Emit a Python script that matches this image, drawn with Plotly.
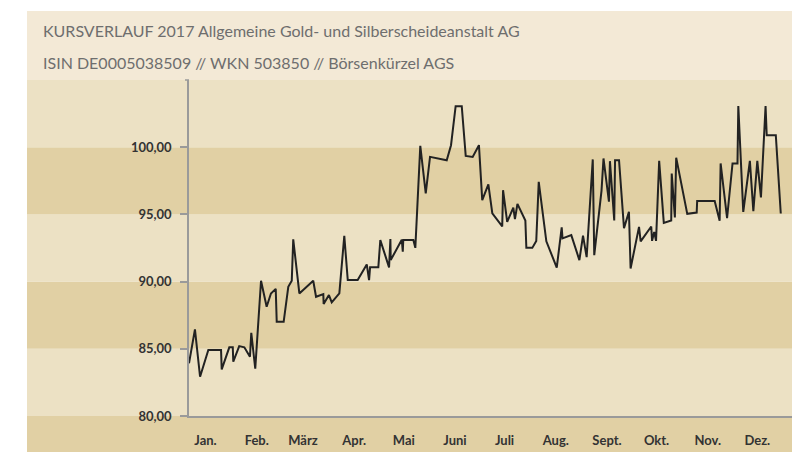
import plotly.graph_objects as go

# ---- data (x = day of year 2017, 0 = 1 Jan) ----
days = [0.0, 3.6, 6.7, 11.7, 19.4, 19.8, 24.4, 26.5, 26.8, 30.4, 33.5, 36.9, 37.7, 40.1,
        43.6, 47.0, 49.6, 52.5, 53.1, 57.3, 60.1, 62.2, 63.1, 66.8, 75.2, 76.9, 81.3, 81.5,
        84.7, 86.4, 91.0, 94.0, 96.1, 102.1, 107.6, 109.0, 109.6, 114.6, 115.8, 121.1, 121.9,
        122.1, 128.8, 129.4, 129.7, 135.8, 137.0, 140.0, 143.3, 145.9, 156.0, 158.6, 161.4,
        165.1, 167.5, 171.7, 175.5, 177.5, 181.2, 183.6, 189.6, 190.1, 192.6, 196.3, 197.3,
        198.8, 203.6, 204.2, 207.8, 210.2, 211.7, 216.3, 222.6, 225.6, 226.1, 231.4, 236.3,
        238.5, 240.7, 244.4, 245.3, 249.7, 250.9, 254.2, 254.8, 257.4, 257.9, 260.3, 263.3,
        266.3, 267.3, 272.4, 273.4, 279.8, 280.3, 281.6, 282.7, 284.6, 287.4, 291.9, 292.2,
        294.1, 294.9, 301.6, 307.3, 307.6, 318.2, 321.2, 321.8, 325.7, 329.0, 332.0, 332.5,
        335.5, 339.5, 341.6, 344.0, 346.2, 349.0, 349.7, 355.2, 358.2]
prices = [83.92, 86.45, 82.92, 84.91, 84.91, 83.47, 85.11, 85.11, 84.04, 85.20, 85.11, 84.41,
          86.19, 83.52, 90.06, 88.13, 89.12, 89.46, 87.01, 87.01, 89.61, 90.06, 93.14, 89.12,
          90.06, 88.87, 89.07, 88.33, 89.00, 88.45, 89.12, 93.41, 90.11, 90.11, 91.28, 90.11,
          91.06, 91.06, 93.09, 91.06, 93.16, 91.60, 93.12, 92.22, 93.09, 93.09, 92.51, 100.10,
          96.56, 99.28, 99.03, 100.15, 103.05, 103.05, 99.35, 99.28, 100.15, 96.06, 97.23,
          95.07, 94.11, 96.80, 94.45, 95.50, 94.65, 95.78, 94.55, 92.51, 92.51, 93.03, 97.42,
          93.00, 91.04, 94.03, 93.21, 93.46, 91.60, 93.42, 91.82, 99.09, 91.97, 96.77, 99.16,
          95.95, 98.96, 94.55, 99.03, 99.03, 93.98, 95.19, 90.98, 94.07, 92.99, 94.10, 93.03,
          93.70, 93.03, 98.98, 94.37, 94.55, 98.04, 94.77, 99.22, 95.04, 95.14, 96.00, 96.00,
          94.52, 98.79, 94.72, 98.79, 98.79, 103.07, 95.19, 98.98, 95.24, 98.98, 96.26, 103.07,
          100.89, 100.89, 95.07]

month_labels = ["Jan.", "Feb.", "März", "Apr.", "Mai", "Juni", "Juli", "Aug.", "Sept.",
                "Okt.", "Nov.", "Dez."]
month_starts = [0, 31, 59, 90, 120, 151, 181, 212, 243, 273, 304, 334]
y_ticks = [80, 85, 90, 95, 100]
bands = [(80, 85), (85, 90), (90, 95), (95, 100), (100, 105)]

title = "KURSVERLAUF 2017 Allgemeine Gold- und Silberscheideanstalt AG"
subtitle = "ISIN DE0005038509 // WKN 503850 // Börsenkürzel AGS"

# ---- layout geometry ----
W, H = 792, 452
ML, MR, MT, MB = 189, 0, 80, 36
PW, PH = W - ML - MR, H - MT - MB

def px_x(p):  # pixel -> paper x
    return (p - ML) / PW

def px_y(p):  # pixel -> paper y
    return (H - MB - p) / PH

LIGHT_TOP = "#f3e9d6"
LIGHT = "#ece1c4"
DARK = "#e1d0a4"

shapes = []
# title box
shapes.append(dict(type="rect", xref="paper", yref="paper", x0=px_x(27), x1=1,
                   y0=1, y1=px_y(11), fillcolor=LIGHT_TOP, line_width=0, layer="below"))
# bands
for i, (a, b) in enumerate(bands):
    shapes.append(dict(type="rect", xref="paper", yref="y", x0=px_x(27), x1=1,
                       y0=a, y1=b, fillcolor=LIGHT if i % 2 == 0 else DARK,
                       line_width=0, layer="below"))
# bottom strip below axis
shapes.append(dict(type="rect", xref="paper", yref="paper", x0=px_x(27), x1=1,
                   y0=px_y(H), y1=0, fillcolor=DARK, line_width=0, layer="below"))
# small cap tick at top of y axis
shapes.append(dict(type="line", xref="paper", yref="paper", x0=px_x(185), x1=0,
                   y0=1, y1=1, line=dict(color="#9a9a9a", width=1.5)))

fig = go.Figure()
fig.add_trace(go.Scatter(x=days, y=prices, mode="lines",
                         line=dict(color="#222222", width=2), hoverinfo="skip"))

FONT = "Lato"
fig.update_layout(
    width=W, height=H,
    margin=dict(l=ML, r=MR, t=MT, b=MB, pad=0),
    paper_bgcolor="white", plot_bgcolor="rgba(0,0,0,0)",
    separators=",.",
    showlegend=False,
    shapes=shapes,
    annotations=[
        dict(text=title, xref="paper", yref="paper", x=px_x(41), y=px_y(30),
             xanchor="left", yanchor="middle", showarrow=False,
             font=dict(family=FONT, size=16, color="#6e6e6e")),
        dict(text=subtitle, xref="paper", yref="paper", x=px_x(41), y=px_y(63),
             xanchor="left", yanchor="middle", showarrow=False,
             font=dict(family=FONT, size=16, color="#6e6e6e")),
    ],
    xaxis=dict(range=[0, 365], showgrid=False, zeroline=False,
               showline=True, linecolor="#9a9a9a", linewidth=1.5,
               tickvals=[m + 10 for m in month_starts], ticktext=month_labels,
               ticks="", ticklabelstandoff=12,
               tickfont=dict(family=FONT, size=13, color="#333333", weight="bold")),
    yaxis=dict(range=[80, 105], showgrid=False, zeroline=False,
               showline=True, linecolor="#9a9a9a", linewidth=1.5,
               tickvals=y_ticks, tickformat=".2f",
               ticks="outside", ticklen=7, tickcolor="#9a9a9a", tickwidth=1.5,
               ticklabelstandoff=6,
               tickfont=dict(family=FONT, size=13, color="#333333", weight="bold")),
)

fig.write_html("out.html", config={"displayModeBar": False},
               post_script="document.body.style.margin='0';document.body.style.overflow='hidden';")
